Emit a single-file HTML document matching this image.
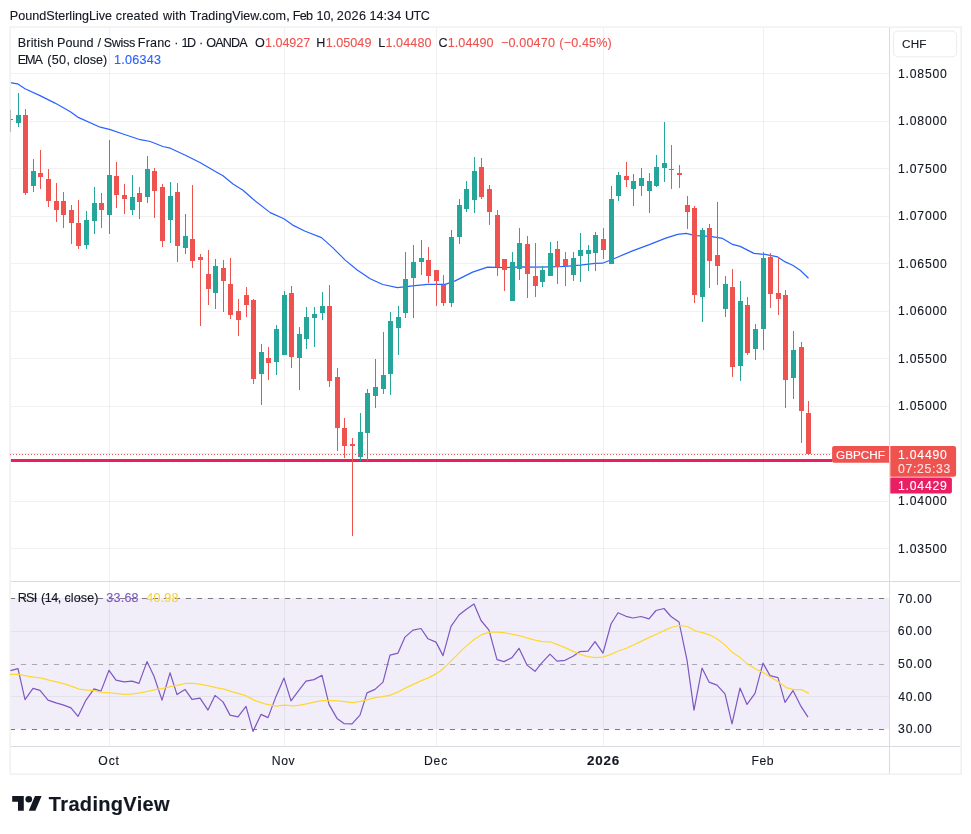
<!DOCTYPE html>
<html lang="en">
<head>
<meta charset="utf-8">
<title>GBPCHF chart</title>
<style>
html,body{margin:0;padding:0;background:#fff;}
body{width:971px;height:834px;position:relative;overflow:hidden;font-family:"Liberation Sans",sans-serif;}
#chart{position:absolute;left:0;top:0;}
.t{position:absolute;white-space:pre;line-height:1;font-family:"Liberation Sans",sans-serif;-webkit-text-stroke:0.12px currentColor;}
</style>
</head>
<body>
<svg id="chart" width="971" height="834" viewBox="0 0 971 834">
<rect x="10" y="27" width="951" height="747" fill="#ffffff"/>
<rect x="10" y="598" width="879" height="1" fill="#f3eff1"/>
<rect x="10" y="599" width="879" height="130" fill="#f1eef9"/>
<path d="M109.5 28V746 M284.5 28V746 M436.5 28V746 M603.5 28V746 M763.5 28V746 M10 73.5H889 M10 121.5H889 M10 168.5H889 M10 216.5H889 M10 263.5H889 M10 311.5H889 M10 358.5H889 M10 406.5H889 M10 453.5H889 M10 501.5H889 M10 548.5H889 M10 631.5H889 M10 696.5H889" stroke="#2a2e39" stroke-opacity="0.065" stroke-width="1" fill="none"/>
<path d="M10 581.5H961 M10 746.5H961 M889.5 28V774" stroke="#d9dbe3" stroke-width="1" fill="none"/>
<path d="M9.9 598.5H889 M9.9 729.5H889" stroke="#787b86" stroke-width="1" stroke-dasharray="5.2 5.8" fill="none"/>
<path d="M9.9 664.5H889" stroke="#787b86" stroke-opacity="0.6" stroke-width="1" stroke-dasharray="5.2 5.8" fill="none"/>
<rect x="10" y="459" width="822.5" height="3" fill="#e91e63"/>
<polyline points="10.0,82.6 17.5,83.8 25.0,88.8 40.0,95.6 55.0,103.1 70.0,111.4 77.7,117.1 100.2,127.2 109.5,129.4 125.3,134.7 140.3,139.7 150.3,141.5 162.8,146.5 170.3,148.2 185.4,155.2 200.4,162.8 215.4,171.5 223.0,175.8 233.0,184.0 243.0,190.3 252.6,198.8 270.2,212.6 283.9,218.8 292.7,225.1 305.2,231.3 321.5,237.6 332.7,247.6 345.2,260.1 357.2,270.0 370.2,278.8 382.7,284.5 397.5,287.6 412.5,285.9 427.5,284.4 445.1,284.4 455.1,280.9 472.6,272.1 487.6,267.1 505.1,267.6 520.1,266.9 535.2,267.1 550.2,266.9 565.2,266.4 580.2,265.1 595.2,263.4 602.5,263.2 615.0,258.2 632.5,250.9 650.0,244.4 665.1,238.4 677.6,234.4 686.3,233.4 695.1,235.6 710.1,236.4 722.6,238.4 732.6,244.4 740.2,246.4 753.9,253.4 765.2,254.4 777.7,256.9 785.2,261.9 792.7,265.2 800.2,270.2 808.5,278.2" fill="none" stroke="#2962ff" stroke-width="1.2" stroke-linejoin="round"/>
<rect x="10.15" y="27.1" width="951" height="747.1" fill="none" stroke="#f1f1f4" stroke-width="1.6"/>
<g shape-rendering="crispEdges">
<rect x="10" y="110" width="1" height="22" fill="#b4b8b8"/><rect x="11" y="119" width="2" height="1" fill="#26a69a"/>
<g fill="#26a69a"><rect x="18" y="93" width="1" height="34"/><rect x="33" y="159" width="1" height="33"/><rect x="86" y="211" width="1" height="38"/><rect x="94" y="187" width="1" height="47"/><rect x="109" y="140" width="1" height="94"/><rect x="132" y="175" width="1" height="40"/><rect x="147" y="156" width="1" height="47"/><rect x="170" y="182" width="1" height="61"/><rect x="185" y="214" width="1" height="40"/><rect x="215" y="259" width="1" height="50"/><rect x="261" y="344" width="1" height="61"/><rect x="276" y="325" width="1" height="50"/><rect x="284" y="291" width="1" height="64"/><rect x="299" y="327" width="1" height="63"/><rect x="306" y="307" width="1" height="42"/><rect x="314" y="307" width="1" height="40"/><rect x="322" y="292" width="1" height="28"/><rect x="360" y="413" width="1" height="48"/><rect x="367" y="389" width="1" height="72"/><rect x="375" y="359" width="1" height="49"/><rect x="383" y="332" width="1" height="62"/><rect x="390" y="312" width="1" height="83"/><rect x="398" y="306" width="1" height="49"/><rect x="405" y="252" width="1" height="66"/><rect x="413" y="245" width="1" height="73"/><rect x="421" y="240" width="1" height="35"/><rect x="451" y="230" width="1" height="77"/><rect x="459" y="199" width="1" height="45"/><rect x="466" y="181" width="1" height="31"/><rect x="474" y="157" width="1" height="56"/><rect x="512" y="252" width="1" height="49"/><rect x="519" y="228" width="1" height="52"/><rect x="542" y="266" width="1" height="21"/><rect x="550" y="242" width="1" height="34"/><rect x="573" y="252" width="1" height="29"/><rect x="580" y="233" width="1" height="49"/><rect x="588" y="245" width="1" height="26"/><rect x="595" y="232" width="1" height="39"/><rect x="611" y="186" width="1" height="78"/><rect x="618" y="172" width="1" height="29"/><rect x="633" y="174" width="1" height="32"/><rect x="641" y="168" width="1" height="28"/><rect x="649" y="173" width="1" height="40"/><rect x="656" y="155" width="1" height="32"/><rect x="664" y="122" width="1" height="60"/><rect x="702" y="228" width="1" height="94"/><rect x="725" y="276" width="1" height="41"/><rect x="740" y="281" width="1" height="100"/><rect x="755" y="324" width="1" height="36"/><rect x="763" y="252" width="1" height="98"/><rect x="793" y="331" width="1" height="68"/><rect x="16" y="115" width="5" height="8"/><rect x="31" y="171" width="5" height="15"/><rect x="84" y="220" width="5" height="25"/><rect x="92" y="203" width="5" height="18"/><rect x="107" y="175" width="5" height="40"/><rect x="130" y="197" width="5" height="13"/><rect x="145" y="169" width="5" height="28"/><rect x="168" y="196" width="5" height="24"/><rect x="183" y="236" width="5" height="12"/><rect x="213" y="266" width="5" height="27"/><rect x="259" y="352" width="5" height="22"/><rect x="274" y="329" width="5" height="33"/><rect x="282" y="295" width="5" height="60"/><rect x="297" y="334" width="5" height="24"/><rect x="304" y="317" width="5" height="22"/><rect x="312" y="314" width="5" height="4"/><rect x="320" y="306" width="5" height="7"/><rect x="358" y="432" width="5" height="25"/><rect x="365" y="393" width="5" height="40"/><rect x="373" y="387" width="5" height="9"/><rect x="381" y="375" width="5" height="14"/><rect x="388" y="321" width="5" height="53"/><rect x="396" y="317" width="5" height="11"/><rect x="403" y="279" width="5" height="34"/><rect x="411" y="262" width="5" height="16"/><rect x="419" y="258" width="5" height="4"/><rect x="449" y="237" width="5" height="66"/><rect x="457" y="205" width="5" height="32"/><rect x="464" y="189" width="5" height="20"/><rect x="472" y="171" width="5" height="29"/><rect x="510" y="262" width="5" height="39"/><rect x="517" y="243" width="5" height="26"/><rect x="540" y="270" width="5" height="12"/><rect x="548" y="253" width="5" height="23"/><rect x="571" y="258" width="5" height="17"/><rect x="578" y="250" width="5" height="6"/><rect x="586" y="250" width="5" height="4"/><rect x="593" y="235" width="5" height="18"/><rect x="609" y="199" width="5" height="65"/><rect x="616" y="175" width="5" height="21"/><rect x="631" y="181" width="5" height="8"/><rect x="639" y="178" width="5" height="8"/><rect x="647" y="181" width="5" height="10"/><rect x="654" y="167" width="5" height="19"/><rect x="662" y="163" width="5" height="5"/><rect x="700" y="230" width="5" height="67"/><rect x="723" y="284" width="5" height="25"/><rect x="738" y="301" width="5" height="65"/><rect x="753" y="329" width="5" height="20"/><rect x="761" y="258" width="5" height="71"/><rect x="791" y="350" width="5" height="28"/></g>
<g fill="#ef5350"><rect x="25" y="109" width="1" height="86"/><rect x="40" y="150" width="1" height="39"/><rect x="48" y="169" width="1" height="38"/><rect x="56" y="183" width="1" height="39"/><rect x="63" y="192" width="1" height="36"/><rect x="71" y="205" width="1" height="39"/><rect x="78" y="200" width="1" height="49"/><rect x="101" y="193" width="1" height="35"/><rect x="116" y="162" width="1" height="46"/><rect x="124" y="184" width="1" height="30"/><rect x="139" y="187" width="1" height="32"/><rect x="154" y="168" width="1" height="50"/><rect x="162" y="184" width="1" height="63"/><rect x="177" y="183" width="1" height="79"/><rect x="192" y="185" width="1" height="83"/><rect x="200" y="254" width="1" height="72"/><rect x="208" y="250" width="1" height="55"/><rect x="223" y="260" width="1" height="52"/><rect x="230" y="258" width="1" height="61"/><rect x="238" y="299" width="1" height="37"/><rect x="246" y="287" width="1" height="30"/><rect x="253" y="299" width="1" height="85"/><rect x="268" y="347" width="1" height="33"/><rect x="291" y="286" width="1" height="82"/><rect x="329" y="285" width="1" height="102"/><rect x="337" y="368" width="1" height="83"/><rect x="344" y="418" width="1" height="40"/><rect x="352" y="438" width="1" height="98"/><rect x="428" y="247" width="1" height="36"/><rect x="436" y="270" width="1" height="36"/><rect x="443" y="275" width="1" height="31"/><rect x="481" y="158" width="1" height="41"/><rect x="489" y="185" width="1" height="40"/><rect x="497" y="210" width="1" height="66"/><rect x="504" y="259" width="1" height="32"/><rect x="527" y="236" width="1" height="62"/><rect x="535" y="243" width="1" height="54"/><rect x="557" y="241" width="1" height="43"/><rect x="565" y="252" width="1" height="34"/><rect x="603" y="228" width="1" height="31"/><rect x="626" y="162" width="1" height="25"/><rect x="671" y="145" width="1" height="44"/><rect x="679" y="165" width="1" height="23"/><rect x="687" y="196" width="1" height="33"/><rect x="694" y="206" width="1" height="97"/><rect x="709" y="224" width="1" height="64"/><rect x="717" y="202" width="1" height="83"/><rect x="732" y="269" width="1" height="108"/><rect x="747" y="297" width="1" height="58"/><rect x="770" y="253" width="1" height="55"/><rect x="778" y="257" width="1" height="58"/><rect x="785" y="290" width="1" height="118"/><rect x="801" y="342" width="1" height="101"/><rect x="808" y="401" width="1" height="53"/><rect x="23" y="115" width="5" height="78"/><rect x="38" y="173" width="5" height="4"/><rect x="46" y="179" width="5" height="22"/><rect x="54" y="201" width="5" height="9"/><rect x="61" y="201" width="5" height="14"/><rect x="69" y="210" width="5" height="13"/><rect x="76" y="223" width="5" height="23"/><rect x="99" y="203" width="5" height="7"/><rect x="114" y="176" width="5" height="19"/><rect x="122" y="195" width="5" height="4"/><rect x="137" y="193" width="5" height="9"/><rect x="152" y="171" width="5" height="20"/><rect x="160" y="187" width="5" height="54"/><rect x="175" y="192" width="5" height="54"/><rect x="190" y="239" width="5" height="22"/><rect x="198" y="257" width="5" height="3"/><rect x="206" y="274" width="5" height="15"/><rect x="221" y="268" width="5" height="13"/><rect x="228" y="284" width="5" height="31"/><rect x="236" y="311" width="5" height="9"/><rect x="244" y="295" width="5" height="10"/><rect x="251" y="300" width="5" height="79"/><rect x="266" y="358" width="5" height="5"/><rect x="289" y="293" width="5" height="64"/><rect x="327" y="306" width="5" height="75"/><rect x="335" y="377" width="5" height="51"/><rect x="342" y="428" width="5" height="18"/><rect x="350" y="444" width="5" height="2"/><rect x="426" y="260" width="5" height="16"/><rect x="434" y="270" width="5" height="11"/><rect x="441" y="285" width="5" height="18"/><rect x="479" y="167" width="5" height="30"/><rect x="487" y="189" width="5" height="23"/><rect x="495" y="215" width="5" height="52"/><rect x="502" y="259" width="5" height="11"/><rect x="525" y="244" width="5" height="30"/><rect x="533" y="276" width="5" height="10"/><rect x="555" y="249" width="5" height="18"/><rect x="563" y="259" width="5" height="7"/><rect x="601" y="239" width="5" height="11"/><rect x="624" y="176" width="5" height="4"/><rect x="669" y="169" width="5" height="1"/><rect x="677" y="173" width="5" height="2"/><rect x="685" y="205" width="5" height="7"/><rect x="692" y="208" width="5" height="87"/><rect x="707" y="228" width="5" height="33"/><rect x="715" y="255" width="5" height="11"/><rect x="730" y="287" width="5" height="80"/><rect x="745" y="305" width="5" height="48"/><rect x="768" y="257" width="5" height="37"/><rect x="776" y="293" width="5" height="6"/><rect x="783" y="295" width="5" height="85"/><rect x="799" y="347" width="5" height="64"/><rect x="806" y="413" width="5" height="41"/></g>
</g>
<polyline points="10.5,670.6 18.0,668.6 25.0,699.6 33.0,688.4 40.0,690.4 48.0,700.1 56.0,702.9 63.0,704.9 71.0,707.9 78.0,716.4 86.0,700.1 94.0,688.9 101.0,691.1 109.0,670.3 116.0,680.1 124.0,681.9 132.0,681.1 139.0,683.4 147.0,661.6 154.0,676.3 162.0,700.1 170.0,672.8 177.0,694.6 185.0,689.4 192.0,699.4 200.0,698.1 208.0,710.1 215.0,695.4 223.0,701.9 230.0,715.1 238.0,716.9 246.0,706.4 253.0,731.4 261.0,714.4 268.0,717.6 276.0,696.4 284.0,678.1 291.0,700.9 299.0,690.1 306.0,681.1 314.0,679.6 322.0,675.3 329.0,704.4 337.0,718.4 344.0,723.6 352.0,723.9 360.0,715.1 367.0,692.9 375.0,689.4 383.0,682.1 390.0,655.1 398.0,653.1 405.0,637.1 413.0,630.1 421.0,628.5 428.0,638.8 436.0,642.1 443.0,655.6 451.0,626.3 459.0,615.0 466.0,609.5 474.0,604.0 481.0,620.5 489.0,630.1 497.0,659.6 504.0,661.6 512.0,657.6 519.0,648.3 527.0,665.1 535.0,671.3 542.0,662.6 550.0,654.1 557.0,661.1 565.0,660.3 573.0,656.3 580.0,651.6 588.0,651.1 595.0,641.6 603.0,653.1 611.0,624.0 618.0,612.8 626.0,616.3 633.0,618.0 641.0,616.5 649.0,618.8 656.0,610.5 664.0,608.5 671.0,616.5 679.0,622.0 687.0,660.1 694.0,710.1 702.0,668.1 709.0,682.1 717.0,685.1 725.0,693.9 732.0,723.9 740.0,688.1 747.0,704.4 755.0,693.4 763.0,663.1 770.0,675.6 778.0,677.6 785.0,702.4 793.0,690.6 801.0,706.4 808.0,717.1" fill="none" stroke="#7e57c2" stroke-width="1.2" stroke-linejoin="round"/>
<polyline points="10.0,674.3 18.5,674.3 26.3,675.8 33.8,677.1 41.5,678.1 49.0,680.1 56.6,681.9 64.3,683.9 71.8,686.4 79.3,689.1 87.1,690.1 94.6,690.6 102.1,692.4 109.9,692.9 117.4,693.6 124.9,694.4 132.6,693.9 140.1,692.9 147.6,691.4 155.4,689.6 162.9,688.4 170.4,686.6 178.2,685.1 185.7,683.4 193.2,683.4 201.0,684.4 208.5,685.9 216.0,687.6 223.8,689.1 232.5,691.9 245.0,695.4 255.0,700.6 265.0,703.9 276.3,706.1 285.1,705.1 292.6,705.9 300.1,705.1 307.6,703.6 315.1,701.9 322.6,700.6 330.1,700.6 337.6,700.9 345.1,701.6 352.6,702.6 360.1,701.4 367.6,699.6 375.2,697.6 382.7,696.6 390.2,695.1 397.7,692.1 406.4,687.6 413.9,684.1 421.5,680.6 429.0,677.6 436.5,673.6 440.0,671.3 447.5,664.6 455.0,657.1 465.0,647.1 475.0,638.8 482.5,634.3 490.1,632.1 497.6,632.1 505.1,632.8 512.6,634.3 520.1,635.8 527.6,638.1 535.1,640.1 542.6,641.6 550.1,641.8 557.6,644.6 565.1,647.6 572.6,651.1 580.1,654.3 587.6,656.6 595.2,657.6 602.7,657.1 610.2,654.6 618.9,650.8 626.4,648.3 633.9,644.8 641.5,641.1 650.0,637.1 657.5,633.8 665.0,630.1 672.5,627.0 680.0,625.5 687.5,626.5 695.1,630.8 702.6,632.6 710.1,635.1 717.6,639.3 725.1,645.1 732.6,652.6 740.1,657.6 747.6,664.1 755.1,668.8 763.4,672.6 771.1,677.6 778.6,682.1 786.1,687.6 793.9,689.6 801.4,689.6 808.9,693.4" fill="none" stroke="#fdd835" stroke-width="1.2" stroke-linejoin="round"/>
<path d="M10 454.5H832" stroke="#ef5350" stroke-width="1" stroke-dasharray="1 2" fill="none" shape-rendering="crispEdges"/>
<path d="M834.1 446H889V462.7H834.1a2 2 0 0 1 -2 -2V448a2 2 0 0 1 2 -2z" fill="#ef5350"/>
<path d="M890.3 446H953.6a2.5 2.5 0 0 1 2.5 2.5V474.2a2.5 2.5 0 0 1 -2.5 2.5H890.3z" fill="#ef5350"/>
<path d="M890.3 477.6H949.9a2 2 0 0 1 2 2V491.5a2 2 0 0 1 -2 2H890.3z" fill="#e91e63"/>
<rect x="893.4" y="31" width="63.2" height="25.8" rx="4.5" fill="#fff" stroke="#ececef" stroke-width="1"/>
<g transform="translate(12.2,792.8) scale(0.8278,0.8167)" fill="#131722"><path d="M14 22H7V11H0V4h14v18zM28 22h-8l7.5-18h8L28 22z"/><circle cx="20" cy="8" r="4"/></g>
</svg>
<span class="t" style="left:9.80px;top:10px;font-size:12.6px;color:#131722;letter-spacing:0.006px;">PoundSterlingLive</span>
<span class="t" style="left:115.80px;top:10px;font-size:12.6px;color:#131722;letter-spacing:0.108px;">created</span>
<span class="t" style="left:163.00px;top:10px;font-size:12.6px;color:#131722;letter-spacing:0.167px;">with</span>
<span class="t" style="left:189.75px;top:10px;font-size:12.6px;color:#131722;letter-spacing:0.033px;">TradingView.com,</span>
<span class="t" style="left:292.70px;top:10px;font-size:12.6px;color:#131722;letter-spacing:-0.725px;">Feb</span>
<span class="t" style="left:316.50px;top:10px;font-size:12.6px;color:#131722;letter-spacing:-0.125px;">10,</span>
<span class="t" style="left:336.75px;top:10px;font-size:12.6px;color:#131722;letter-spacing:0.383px;">2026</span>
<span class="t" style="left:369.40px;top:10px;font-size:12.6px;color:#131722;letter-spacing:0.062px;">14:34</span>
<span class="t" style="left:404.90px;top:10px;font-size:12.6px;color:#131722;letter-spacing:-0.425px;">UTC</span>
<span class="t" style="left:17.70px;top:37px;font-size:12.6px;color:#131722;letter-spacing:0.175px;">British</span>
<span class="t" style="left:57.00px;top:37px;font-size:12.6px;color:#131722;letter-spacing:0.025px;">Pound</span>
<span class="t" style="left:97.60px;top:37px;font-size:12.6px;color:#131722;">/</span>
<span class="t" style="left:103.65px;top:37px;font-size:12.6px;color:#131722;letter-spacing:-0.338px;">Swiss</span>
<span class="t" style="left:137.80px;top:37px;font-size:12.6px;color:#131722;letter-spacing:0.162px;">Franc</span>
<span class="t" style="left:174.30px;top:37px;font-size:12.6px;color:#131722;">·</span>
<span class="t" style="left:181.50px;top:37px;font-size:12.6px;color:#131722;letter-spacing:-1.600px;">1D</span>
<span class="t" style="left:199.00px;top:37px;font-size:12.6px;color:#131722;">·</span>
<span class="t" style="left:206.20px;top:37px;font-size:12.6px;color:#131722;letter-spacing:-0.838px;">OANDA</span>
<span class="t" style="left:255.10px;top:37px;font-size:12.6px;color:#131722;">O</span>
<span class="t" style="left:265.10px;top:37px;font-size:12.6px;color:#ef5350;letter-spacing:-0.058px;">1.04927</span>
<span class="t" style="left:316.20px;top:37px;font-size:12.6px;color:#131722;">H</span>
<span class="t" style="left:325.70px;top:37px;font-size:12.6px;color:#ef5350;letter-spacing:0.033px;">1.05049</span>
<span class="t" style="left:378.20px;top:37px;font-size:12.6px;color:#131722;">L</span>
<span class="t" style="left:385.40px;top:37px;font-size:12.6px;color:#ef5350;letter-spacing:0.100px;">1.04480</span>
<span class="t" style="left:438.55px;top:37px;font-size:12.6px;color:#131722;">C</span>
<span class="t" style="left:447.80px;top:37px;font-size:12.6px;color:#ef5350;letter-spacing:0.033px;">1.04490</span>
<span class="t" style="left:500.90px;top:37px;font-size:12.6px;color:#ef5350;letter-spacing:0.171px;">−0.00470</span>
<span class="t" style="left:559.35px;top:37px;font-size:12.6px;color:#ef5350;letter-spacing:0.129px;">(−0.45%)</span>
<span class="t" style="left:17.70px;top:54px;font-size:12.6px;color:#131722;letter-spacing:-1.025px;">EMA</span>
<span class="t" style="left:47.25px;top:54px;font-size:12.6px;color:#131722;letter-spacing:0.317px;">(50,</span>
<span class="t" style="left:73.60px;top:54px;font-size:12.6px;color:#131722;letter-spacing:0.010px;">close)</span>
<span class="t" style="left:114.10px;top:54px;font-size:12.6px;color:#2962ff;letter-spacing:0.233px;">1.06343</span>
<span class="t" style="left:17.70px;top:592px;font-size:12.6px;color:#131722;letter-spacing:-0.775px;">RSI</span>
<span class="t" style="left:40.95px;top:592px;font-size:12.6px;color:#131722;letter-spacing:-0.483px;">(14,</span>
<span class="t" style="left:64.50px;top:592px;font-size:12.6px;color:#131722;letter-spacing:0.070px;">close)</span>
<span class="t" style="left:106.30px;top:592px;font-size:12.6px;color:#7e57c2;letter-spacing:0.200px;">33.68</span>
<span class="t" style="left:146.25px;top:592px;font-size:12.6px;color:#f9d33f;letter-spacing:0.188px;">40.98</span>
<span class="t" style="left:902.10px;top:38px;font-size:11.7px;color:#131722;letter-spacing:0.200px;">CHF</span>
<span class="t" style="left:898.00px;top:68px;font-size:12.2px;color:#131722;letter-spacing:0.800px;">1.08500</span>
<span class="t" style="left:898.00px;top:115px;font-size:12.2px;color:#131722;letter-spacing:0.800px;">1.08000</span>
<span class="t" style="left:898.00px;top:163px;font-size:12.2px;color:#131722;letter-spacing:0.800px;">1.07500</span>
<span class="t" style="left:898.00px;top:210px;font-size:12.2px;color:#131722;letter-spacing:0.800px;">1.07000</span>
<span class="t" style="left:898.00px;top:258px;font-size:12.2px;color:#131722;letter-spacing:0.800px;">1.06500</span>
<span class="t" style="left:898.00px;top:305px;font-size:12.2px;color:#131722;letter-spacing:0.800px;">1.06000</span>
<span class="t" style="left:898.00px;top:353px;font-size:12.2px;color:#131722;letter-spacing:0.800px;">1.05500</span>
<span class="t" style="left:898.00px;top:400px;font-size:12.2px;color:#131722;letter-spacing:0.800px;">1.05000</span>
<span class="t" style="left:898.00px;top:495px;font-size:12.2px;color:#131722;letter-spacing:0.800px;">1.04000</span>
<span class="t" style="left:898.00px;top:543px;font-size:12.2px;color:#131722;letter-spacing:0.800px;">1.03500</span>
<span class="t" style="left:897.85px;top:593px;font-size:12.2px;color:#131722;letter-spacing:0.838px;">70.00</span>
<span class="t" style="left:897.85px;top:625px;font-size:12.2px;color:#131722;letter-spacing:0.838px;">60.00</span>
<span class="t" style="left:898.10px;top:658px;font-size:12.2px;color:#131722;letter-spacing:0.775px;">50.00</span>
<span class="t" style="left:898.35px;top:691px;font-size:12.2px;color:#131722;letter-spacing:0.713px;">40.00</span>
<span class="t" style="left:898.10px;top:723px;font-size:12.2px;color:#131722;letter-spacing:0.775px;">30.00</span>
<span class="t" style="left:98.30px;top:755px;font-size:12.2px;color:#131722;letter-spacing:0.875px;">Oct</span>
<span class="t" style="left:271.70px;top:755px;font-size:12.2px;color:#131722;letter-spacing:0.650px;">Nov</span>
<span class="t" style="left:424.00px;top:755px;font-size:12.2px;color:#131722;letter-spacing:0.775px;">Dec</span>
<span class="t" style="left:751.60px;top:755px;font-size:12.2px;color:#131722;letter-spacing:0.500px;">Feb</span>
<span class="t" style="left:587.10px;top:755px;font-size:12.2px;color:#131722;font-weight:700;letter-spacing:0.735px;transform:scaleX(1.1);transform-origin:0 0;">2026</span>
<span class="t" style="left:836.10px;top:449px;font-size:11.7px;color:#fff;letter-spacing:0.030px;">GBPCHF</span>
<span class="t" style="left:898.00px;top:449px;font-size:12.2px;color:#fff;letter-spacing:0.800px;">1.04490</span>
<span class="t" style="left:898.00px;top:463px;font-size:12.2px;color:rgba(255,255,255,0.8);letter-spacing:0.700px;">07:25:33</span>
<span class="t" style="left:898.00px;top:480px;font-size:12.2px;color:#fff;letter-spacing:0.800px;">1.04429</span>
<span class="t" style="left:48.85px;top:794px;font-size:20px;color:#131722;font-weight:700;letter-spacing:0.325px;-webkit-text-stroke:0.15px #131722;">TradingView</span>
</body>
</html>
